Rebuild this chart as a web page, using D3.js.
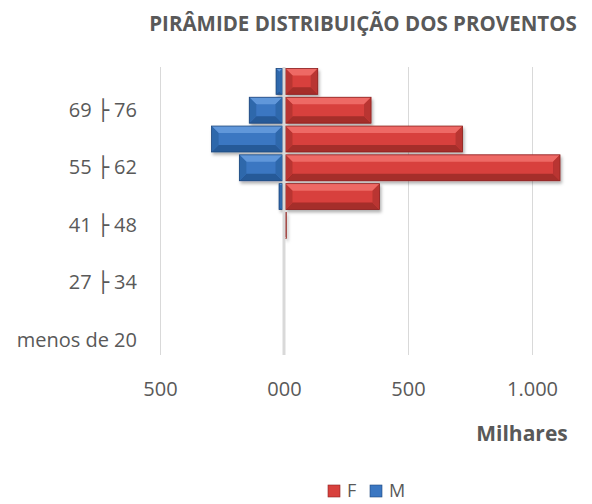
<!DOCTYPE html>
<html>
<head>
<meta charset="utf-8">
<script src="https://cdn.jsdelivr.net/npm/d3@7"></script>
<style>
  body { margin: 0; background: #fff; }
  svg text { font-family: "Open Sans", "DejaVu Sans", sans-serif; fill: #595959; }
</style>
</head>
<body>
<div id="chart"></div>
<script>
// Faixas etárias, de baixo para cima (valores em milhares)
const faixas = ["menos de 20", "20 ├ 27", "27 ├ 34", "34 ├ 41", "41 ├ 48", "48 ├ 55", "55 ├ 62", "62 ├ 69", "69 ├ 76", "76 ├ 83"];
const valoresF = [0, 0, 0, 0, 6, 385, 1113, 720, 351, 136];
const valoresM = [0, 0, 0, 0, 0, -20, -180, -292, -140, -32];
const ticksX = [-500, 0, 500, 1000];
const titulo = "PIRÂMIDE DISTRIBUIÇÃO DOS PROVENTOS";

const WIDTH = 592, HEIGHT = 504;
const PLOT = { left: 160, right: 532, top: 67, bottom: 355 };

const svg = d3.select("#chart").append("svg")
    .attr("width", WIDTH)
    .attr("height", HEIGHT);

// drop shadow for the bevelled bars
const defs = svg.append("defs");
defs.append("filter")
    .attr("id", "sombra")
    .attr("x", "-10%").attr("y", "-20%")
    .attr("width", "130%").attr("height", "160%")
    .append("feDropShadow")
    .attr("dx", 1.5).attr("dy", 2.5)
    .attr("stdDeviation", 1.8)
    .attr("flood-color", "#000")
    .attr("flood-opacity", 0.3);

const xScale = d3.scaleLinear().domain([-500, 1000]).range([PLOT.left, PLOT.right]);
const yScale = d3.scaleBand()
    .domain(faixas.slice().reverse())
    .range([PLOT.top, PLOT.bottom])
    .paddingInner(0.1)
    .paddingOuter(0.05);

// title
svg.append("text")
    .attr("x", 363)
    .attr("y", 31)
    .attr("text-anchor", "middle")
    .style("font-size", "20.5px")
    .style("font-weight", "bold")
    .text(titulo);

// vertical gridlines
svg.append("g")
    .attr("transform", `translate(0, ${PLOT.bottom})`)
    .call(d3.axisBottom(xScale).tickValues(ticksX.filter(d => d !== 0)).tickSize(-(PLOT.bottom - PLOT.top)).tickFormat(""))
    .call(g => g.select(".domain").remove())
    .call(g => g.selectAll("line").attr("stroke", "#d9d9d9"));

// x tick labels (Milhares)
const fmt = d => d === 0 ? "000" : d3.format(",")(Math.abs(d)).replace(/,/g, ".");
svg.append("g")
    .attr("transform", `translate(0, ${PLOT.bottom + 24})`)
    .call(d3.axisBottom(xScale).tickValues(ticksX).tickSize(0).tickFormat(fmt))
    .call(g => g.select(".domain").remove())
    .call(g => g.selectAll("text").style("font-size", "20px").attr("fill", "#595959"));

// category labels: every other one, starting from the bottom
svg.append("g")
    .attr("transform", `translate(${PLOT.left - 23}, 0)`)
    .call(d3.axisLeft(yScale).tickSize(0).tickPadding(0)
        .tickFormat(d => faixas.indexOf(d) % 2 === 0 ? d : ""))
    .call(g => g.select(".domain").remove())
    .call(g => g.selectAll("text").style("font-size", "20px").attr("fill", "#595959"));

// bevelled bar: base rect plus four facets
const cores = {
    F: { base: "#d8413d", top: "#ee6965", bottom: "#a52d2a", side: "#b93431", stroke: "#8c2422" },
    M: { base: "#3b77c2", top: "#6197da", bottom: "#285a98", side: "#2f67ab", stroke: "#21497d" }
};

function barData(valores, serie) {
    return faixas.map((f, i) => ({ faixa: f, valor: valores[i], serie }))
        .filter(d => d.valor !== 0);
}

function drawBars(dados) {
    const g = svg.append("g").attr("filter", "url(#sombra)");
    dados.forEach(d => {
        const c = cores[d.serie];
        const xa = xScale(Math.min(0, d.valor)), xb = xScale(Math.max(0, d.valor));
        const x0 = d.serie === "F" ? xa + 1.5 : xa;
        const x1 = d.serie === "M" ? xb - 1.5 : xb;
        const y0 = yScale(d.faixa), y1 = y0 + yScale.bandwidth();
        const w = x1 - x0, h = y1 - y0;
        const b = Math.max(0, Math.min(7, w / 2, h / 2));
        const bar = g.append("g");
        bar.append("rect")
            .attr("x", x0).attr("y", y0)
            .attr("width", Math.max(w, 0.8)).attr("height", h)
            .attr("fill", c.base);
        const facets = [
            [[x0, y0], [x1, y0], [x1 - b, y0 + b], [x0 + b, y0 + b], c.top],
            [[x0, y1], [x1, y1], [x1 - b, y1 - b], [x0 + b, y1 - b], c.bottom],
            [[x0, y0], [x0 + b, y0 + b], [x0 + b, y1 - b], [x0, y1], c.side],
            [[x1, y0], [x1 - b, y0 + b], [x1 - b, y1 - b], [x1, y1], c.side]
        ];
        facets.forEach(p => {
            bar.append("polygon")
                .attr("points", p.slice(0, 4).map(q => q.join(",")).join(" "))
                .attr("fill", p[4]);
        });
        bar.append("rect")
            .attr("x", x0).attr("y", y0)
            .attr("width", Math.max(w, 0.8)).attr("height", h)
            .attr("fill", "none")
            .attr("stroke", c.stroke)
            .attr("stroke-width", 0.8);
    });
}

drawBars(barData(valoresM, "M"));
drawBars(barData(valoresF, "F"));

// zero axis line on top of the bars
svg.append("line")
    .attr("x1", xScale(0)).attr("x2", xScale(0))
    .attr("y1", PLOT.top).attr("y2", PLOT.bottom)
    .attr("stroke", "#d9d9d9")
    .attr("stroke-width", 3);

// axis title
svg.append("text")
    .attr("x", 522)
    .attr("y", 441)
    .attr("text-anchor", "middle")
    .style("font-size", "21px")
    .style("font-weight", "bold")
    .text("Milhares");

// legend
const legenda = [{ nome: "F", serie: "F", x: 328 }, { nome: "M", serie: "M", x: 370 }];
const lg = svg.append("g");
legenda.forEach(d => {
    lg.append("rect")
        .attr("x", d.x).attr("y", 485)
        .attr("width", 12).attr("height", 12)
        .attr("fill", cores[d.serie].base)
        .attr("stroke", cores[d.serie].stroke)
        .attr("stroke-width", 0.6);
    lg.append("text")
        .attr("x", d.x + 19)
        .attr("y", 497)
        .style("font-size", "18px")
        .text(d.nome);
});
</script>
</body>
</html>
